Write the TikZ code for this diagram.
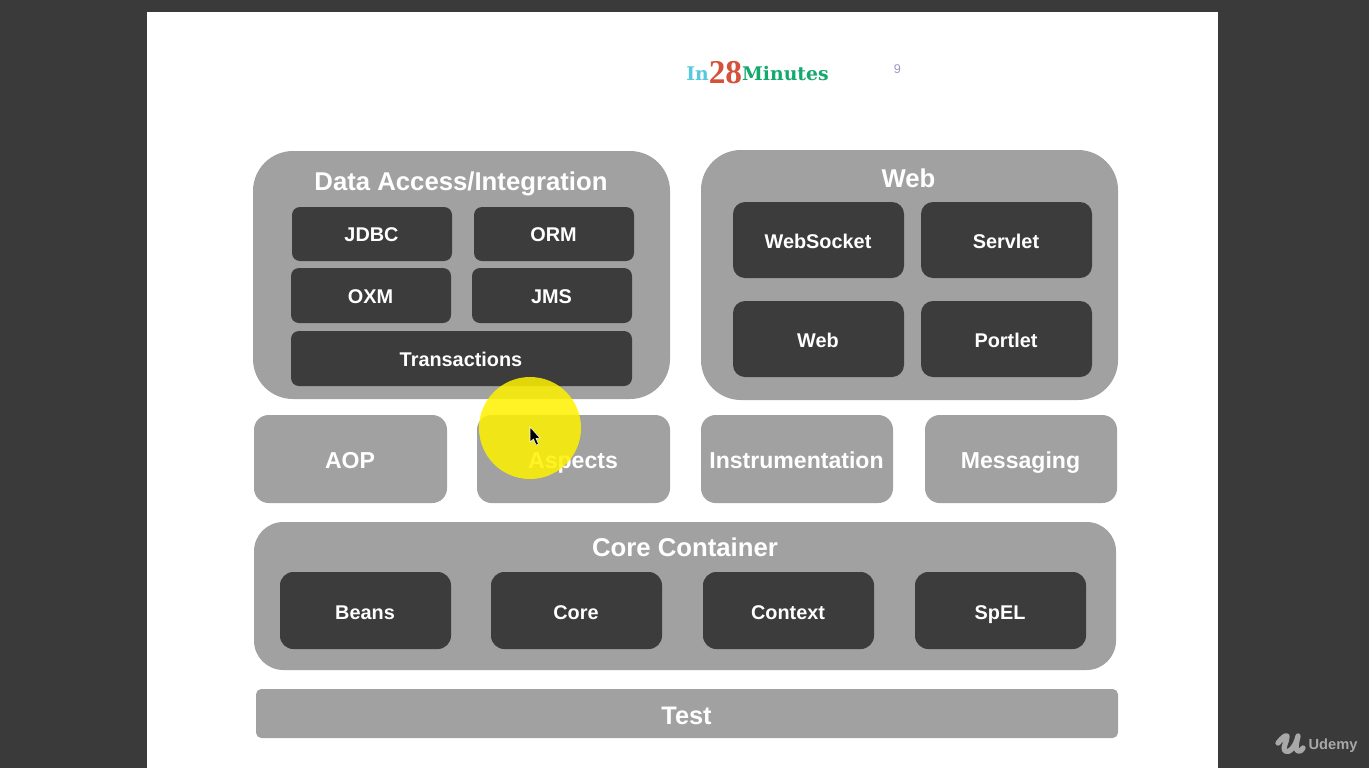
\documentclass[tikz,border=0pt]{standalone}
\usepackage{fontspec}
\setmainfont{Liberation Sans}
\newfontfamily\logofont{DejaVu Serif}
\newfontfamily\logonumfont{Liberation Serif}
\definecolor{bgdark}{HTML}{3A3A3A}
\definecolor{midgray}{HTML}{A1A1A1}
\definecolor{darkbox}{HTML}{3C3C3C}
\definecolor{logocyan}{HTML}{58C9DC}
\definecolor{logored}{HTML}{D6503A}
\definecolor{logogreen}{HTML}{14A96C}
\definecolor{pagenum}{HTML}{9A9AC4}
\definecolor{udemygray}{HTML}{A8A8A8}
\tikzset{
  x=0.75pt,y=-0.75pt,
  grouptitle/.style={text=white,font=\bfseries\fontsize{19.3}{22}\selectfont,inner sep=0pt,anchor=base},
}
% name, x0, y0, x1, y1, fill style, font size, baseline y, text
\newcommand{\pxbox}[9]{%
  \path[#6,draw=none] (#2,#3) rectangle (#4,#5);
  \node[inner sep=0pt,anchor=base,text=white,font=\bfseries\fontsize{#7}{#7}\selectfont] (#1) at ({(#2+#4)/2-0.5},#8) {#9};
}
\begin{document}
\begin{tikzpicture}
\useasboundingbox (0,0) rectangle (1369,768);
\fill[bgdark] (0,0) rectangle (1369,768);
\fill[white] (147,12) rectangle (1218,768);

% logo
\node[inner sep=0pt,anchor=base] (logo) at (757.5,80) {\textcolor{logocyan}{\logofont\bfseries\fontsize{14.1}{18}\selectfont In}\raisebox{-2.25pt}{\textcolor{logored}{\logonumfont\bfseries\fontsize{25}{24}\selectfont 28}}\textcolor{logogreen}{\logofont\bfseries\fontsize{14.1}{18}\selectfont Minutes}};
\node[inner sep=0pt,text=pagenum,font=\fontsize{9.5}{11}\selectfont] (pagenum) at (897.5,69) {9};

% data access
\path[fill=midgray,rounded corners=30pt] (253,151) rectangle (670,399);
\node[grouptitle] (datitle) at (461,190) {Data Access/Integration};
\pxbox{jdbc}{292}{207}{452}{261}{fill=darkbox,rounded corners=6pt}{14.9}{241}{JDBC}
\pxbox{orm}{474}{207}{634}{261}{fill=darkbox,rounded corners=6pt}{14.9}{241}{ORM}
\pxbox{oxm}{291}{268}{451}{323}{fill=darkbox,rounded corners=6pt}{14.9}{303}{OXM}
\pxbox{jms}{472}{268}{632}{323}{fill=darkbox,rounded corners=6pt}{14.9}{303}{JMS}
\pxbox{trans}{291}{331}{632}{386}{fill=darkbox,rounded corners=6pt}{14.9}{366}{Transactions}

% web
\path[fill=midgray,rounded corners=30pt] (701,150) rectangle (1118,400);
\node[grouptitle] (webtitle) at (908.5,187) {Web};
\pxbox{websocket}{733}{202}{904}{278}{fill=darkbox,rounded corners=9pt}{14.9}{248}{WebSocket}
\pxbox{servlet}{921}{202}{1092}{278}{fill=darkbox,rounded corners=9pt}{14.9}{248}{Servlet}
\pxbox{webb}{733}{301}{904}{377}{fill=darkbox,rounded corners=9pt}{14.9}{347}{Web}
\pxbox{portlet}{921}{301}{1092}{377}{fill=darkbox,rounded corners=9pt}{14.9}{347}{Portlet}

% middle row
\pxbox{aop}{254}{415}{447}{503}{fill=midgray,rounded corners=11pt}{17.3}{468}{AOP}
\pxbox{aspects}{477}{415}{670}{503}{fill=midgray,rounded corners=11pt}{17.3}{468}{Aspects}
\pxbox{instr}{701}{415}{893}{503}{fill=midgray,rounded corners=11pt}{17.3}{468}{Instrumentation}
\pxbox{msg}{925}{415}{1117}{503}{fill=midgray,rounded corners=11pt}{17.3}{468}{Messaging}

% core container
\path[fill=midgray,rounded corners=22pt] (254,522) rectangle (1116,670);
\node[grouptitle] (coretitle) at (685,556) {Core Container};
\pxbox{beans}{280}{572}{451}{649}{fill=darkbox,rounded corners=10pt}{14.9}{619}{Beans}
\pxbox{core}{491}{572}{662}{649}{fill=darkbox,rounded corners=10pt}{14.9}{619}{Core}
\pxbox{context}{703}{572}{874}{649}{fill=darkbox,rounded corners=10pt}{14.9}{619}{Context}
\pxbox{spel}{915}{572}{1086}{649}{fill=darkbox,rounded corners=10pt}{14.9}{619}{SpEL}

% test
\pxbox{test}{256}{689}{1118}{738}{fill=midgray,rounded corners=4pt}{19}{724}{Test}

% highlight and cursor
\fill[yellow,opacity=0.85] (530,428) circle[radius=51];
\fill[black,draw=white,line width=0.4pt] (530,427) -- (530,442) -- (533.5,439) -- (536,445) -- (538.5,444) -- (536,438.5) -- (540,438) -- cycle;

% udemy mark
\draw[udemygray,line width=4pt,line cap=round,line join=round]
  (1278,743) .. controls (1282,738) and (1285,735) .. (1287,736)
  .. controls (1287,742) and (1282,748) .. (1285,751)
  .. controls (1289,754) and (1296,746) .. (1298,736)
  .. controls (1296,744) and (1295,750) .. (1298,751)
  .. controls (1300,752) and (1302,750) .. (1303,748);
\node[inner sep=0pt,anchor=base,text=udemygray,font=\bfseries\fontsize{11}{13}\selectfont] (udemy) at (1333,749) {Udemy};
\end{tikzpicture}
\end{document}
